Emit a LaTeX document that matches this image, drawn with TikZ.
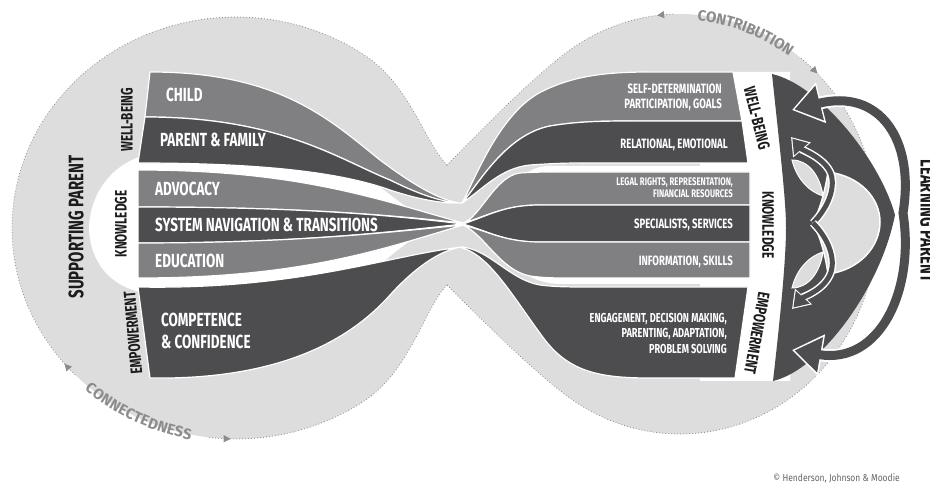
\documentclass[tikz,border=0pt]{standalone}
\usepackage{fontspec}
\setmainfont{Fira Sans}
\newfontfamily\narrowfont{Fira Sans}[FakeStretch=0.71]
\newfontfamily\creditfont{Fira Sans}[FakeStretch=0.85]
\usetikzlibrary{arrows.meta,decorations.markings,decorations.text}

\definecolor{bandgrey}{RGB}{221,221,222}
\definecolor{midgrey}{RGB}{128,128,131}
\definecolor{darkgrey}{RGB}{77,77,80}
\definecolor{dotgrey}{RGB}{140,140,140}
\definecolor{inkgrey}{RGB}{28,28,28}
\definecolor{creditgrey}{RGB}{100,100,100}

\newcommand{\flowfont}{\bfseries\fontsize{15}{15}\selectfont}

\tikzset{
  strand/.style={draw=white, line width=1.2pt, line join=round},
  rowtext/.style={text=white, inner sep=0pt, anchor=west, align=left,
    font=\narrowfont\bfseries\fontsize{19}{22}\selectfont},
  infotext/.style={text=white, inner sep=0pt, anchor=east, align=right,
    font=\narrowfont\bfseries\fontsize{13.5}{15}\selectfont},
  sidetext/.style={text=inkgrey, inner sep=0pt,
    font=\narrowfont\bfseries\fontsize{16.5}{17}\selectfont},
  dotline/.style={dotgrey, line width=1.1pt, line cap=round,
    dash pattern=on 0pt off 3pt, postaction={decorate}},
  flowtip/.tip={Triangle[length=7pt,width=7pt]},
}

\begin{document}
\begin{tikzpicture}[x=1pt,y=-1pt]
  \useasboundingbox (0,0) rectangle (930,486);

  % figure of eight band
  \fill[bandgrey] (447,165) .. controls (469,143) and (527,82) .. (567,52)
    arc[start angle=235, end angle=485, x radius=197, y radius=210]
    .. controls (527,366) and (469,307) .. (447,285)
    .. controls (425,307) and (410,371) .. (364.5,400.8)
    arc[start angle=55, end angle=305, x radius=224, y radius=211]
    .. controls (410,85) and (425,143) .. (447,165) -- cycle;

  % dotted outline with its little arrows
  \draw[dotline, decoration={markings, mark=at position -22pt with {\arrowreversed{flowtip}}}]
    (447,285) .. controls (425,307) and (410,371) .. (364.5,400.8)
    arc[start angle=55, end angle=97, x radius=224, y radius=211];
  \draw[dotline, decoration={markings, mark=at position 15pt with {\arrow{flowtip}}}]
    (74.9,374.6) arc[start angle=136, end angle=305, x radius=224, y radius=211]
    .. controls (410,85) and (425,143) .. (447,165);
  \draw[dotline, decoration={markings, mark=at position -16pt with {\arrowreversed{flowtip}}}]
    (447,165) .. controls (469,143) and (527,82) .. (567,52)
    arc[start angle=235, end angle=268, x radius=197, y radius=210];
  \draw[dotline, decoration={markings, mark=at position 22pt with {\arrow{flowtip}}}]
    (801.3,58.5) arc[start angle=308, end angle=485, x radius=197, y radius=210]
    .. controls (527,366) and (469,307) .. (447,285);

  \path[decorate, decoration={text along path, text color=dotgrey, text align=center,
      raise=-5pt, text={|\flowfont|CONNECTEDNESS}}]
    (80.4,379.8) arc[start angle=134, end angle=99, x radius=224, y radius=211];
  \path[decorate, decoration={text along path, text color=dotgrey, text align=center,
      raise=-6pt, text={|\flowfont|CONTRIBUTION}}]
    (693.7,14.5) arc[start angle=274, end angle=306, x radius=197, y radius=210];

  % white holes of the two lobes
  \fill[white] (145,155) .. controls (110,165) and (90,195) .. (89,228)
    .. controls (90,262) and (110,287) .. (145,293) -- (320,290)
    .. controls (370,285) and (390,250) .. (420,235) -- (420,215)
    .. controls (390,200) and (370,168) .. (320,166) -- cycle;
  \fill[white] (545,166) .. controls (515,170) and (500,205) .. (490,220) -- (490,232)
    .. controls (505,255) and (520,283) .. (560,284) -- (700,284) -- (700,381)
    -- (790,381) -- (790,72) -- (700,72) -- (700,166) -- cycle;

  % left strands
  \filldraw[strand, fill=midgrey] (150,72) .. controls (280,72) and (330,120) .. (380,160)
    .. controls (420,190) and (445,202) .. (462,203)
    .. controls (445,204) and (420,195) .. (390,180)
    .. controls (340,160) and (280,117) .. (145,117) -- cycle;
  \filldraw[strand, fill=darkgrey] (145,117) .. controls (280,117) and (340,160) .. (390,180)
    .. controls (420,195) and (445,203) .. (462,203)
    .. controls (445,204) and (420,200) .. (390,190)
    .. controls (340,172) and (260,163) .. (138,163) -- cycle;
  \filldraw[strand, fill=midgrey] (138,170) .. controls (300,170) and (380,200) .. (463,223)
    .. controls (390,215) and (300,207) .. (138,207) -- cycle;
  \filldraw[strand, fill=darkgrey] (138,207) .. controls (300,207) and (390,215) .. (463,224)
    .. controls (390,232) and (300,243) .. (138,243) -- cycle;
  \filldraw[strand, fill=midgrey] (138,243) .. controls (300,243) and (390,232) .. (463,225)
    .. controls (380,250) and (300,278) .. (138,278) -- cycle;
  \filldraw[strand, fill=darkgrey] (138,287) .. controls (300,290) and (390,255) .. (462,247)
    .. controls (445,249) and (420,262) .. (390,295)
    .. controls (350,340) and (280,380) .. (150,378) -- cycle;

  % right strands
  \filldraw[strand, fill=midgrey] (462,203) .. controls (475,180) and (500,110) .. (545,90)
    .. controls (575,76) and (605,72) .. (650,72) -- (733,72) -- (742,121) -- (640,121)
    .. controls (605,121) and (580,121) .. (550,126)
    .. controls (505,135) and (478,185) .. (462,203) -- cycle;
  \filldraw[strand, fill=darkgrey] (462,203) .. controls (478,185) and (505,135) .. (550,126)
    .. controls (580,121) and (605,121) .. (640,121) -- (742,121) -- (748,163) -- (580,163)
    .. controls (560,163) and (545,164) .. (530,165)
    .. controls (500,168) and (482,190) .. (462,203) -- cycle;
  \filldraw[strand, fill=midgrey] (463,223) .. controls (480,218) and (495,176) .. (520,173)
    .. controls (535,172) and (545,172) .. (560,172) -- (750,172) -- (750,205) -- (540,205)
    .. controls (505,205) and (490,215) .. (463,223) -- cycle;
  \filldraw[strand, fill=darkgrey] (463,224) .. controls (490,215) and (505,205) .. (540,205)
    -- (750,205) -- (750,242) -- (540,242)
    .. controls (505,242) and (490,232) .. (463,224) -- cycle;
  \filldraw[strand, fill=midgrey] (463,225) .. controls (490,232) and (505,242) .. (540,242)
    -- (750,242) -- (750,278) -- (570,278)
    .. controls (555,278) and (545,278) .. (530,276)
    .. controls (500,270) and (485,235) .. (463,225) -- cycle;
  \filldraw[strand, fill=darkgrey] (462,247) .. controls (490,250) and (510,280) .. (540,285)
    .. controls (555,287) and (570,287) .. (590,287) -- (748,287) -- (735,378) -- (650,378)
    .. controls (600,378) and (570,372) .. (545,340)
    .. controls (515,300) and (490,255) .. (462,248) -- cycle;

  % strand labels
  \node[rowtext] (child) at (166,95) {CHILD};
  \node[rowtext] (family) at (160,140) {PARENT \& FAMILY};
  \node[rowtext] (advocacy) at (155,189) {ADVOCACY};
  \node[rowtext] (navigation) at (155,225) {SYSTEM NAVIGATION \& TRANSITIONS};
  \node[rowtext] (education) at (155,261) {EDUCATION};
  \node[rowtext] (competence) at (161,331) {COMPETENCE\\\& CONFIDENCE};

  \node[infotext] (selfdet) at (722,97) {SELF-DETERMINATION\\PARTICIPATION, GOALS};
  \node[infotext] (relational) at (728,145) {RELATIONAL, EMOTIONAL};
  \node[infotext, font=\narrowfont\bfseries\fontsize{11}{12}\selectfont]
    (legal) at (733,188) {LEGAL RIGHTS, REPRESENTATION,\\FINANCIAL RESOURCES};
  \node[infotext] (specialists) at (733,225) {SPECIALISTS, SERVICES};
  \node[infotext] (information) at (733,262) {INFORMATION, SKILLS};
  \node[infotext, font=\narrowfont\bfseries\fontsize{13}{15.5}\selectfont]
    (engagement) at (727,333) {ENGAGEMENT, DECISION MAKING,\\PARENTING, ADAPTATION,\\PROBLEM SOLVING};

  % learning parent bow and arrows
  \fill[darkgrey] (772,74) .. controls (780,150) and (786,200) .. (786,228)
    .. controls (786,260) and (780,320) .. (773,381)
    .. controls (820,370) and (880,290) .. (895,215)
    .. controls (880,160) and (820,85) .. (772,74) -- cycle;
  \filldraw[fill=bandgrey, draw=white, line width=1.5pt] (813,223)
    .. controls (822,205) and (826,185) .. (828,172)
    .. controls (860,176) and (880,198) .. (880,222)
    .. controls (880,246) and (860,270) .. (828,274)
    .. controls (826,260) and (822,240) .. (813,223) -- cycle;
  \filldraw[fill=bandgrey, draw=white, line width=1pt] (792,160)
    .. controls (808,160) and (820,175) .. (823,196)
    .. controls (810,192) and (797,180) .. (792,160) -- cycle;
  \filldraw[fill=bandgrey, draw=white, line width=1pt] (792,288)
    .. controls (808,288) and (820,273) .. (823,252)
    .. controls (810,256) and (797,268) .. (792,288) -- cycle;

  \draw[white, line width=8pt, -{Triangle[length=17pt,width=22pt]}]
    (813,223) .. controls (826,210) and (836,190) .. (831,174)
    .. controls (825,158) and (802,150) .. (791,137);
  \draw[darkgrey, line width=5pt, shorten >=2pt, -{Triangle[length=14pt,width=18pt]}]
    (813,223) .. controls (826,210) and (836,190) .. (831,174)
    .. controls (825,158) and (802,150) .. (791,137);
  \draw[white, line width=8pt, -{Triangle[length=17pt,width=22pt]}]
    (813,223) .. controls (826,236) and (836,256) .. (831,272)
    .. controls (825,290) and (803,297) .. (792,309);
  \draw[darkgrey, line width=5pt, shorten >=2pt, -{Triangle[length=14pt,width=18pt]}]
    (813,223) .. controls (826,236) and (836,256) .. (831,272)
    .. controls (825,290) and (803,297) .. (792,309);

  \draw[white, line width=13pt, {Triangle[length=30pt,width=40pt]}-{Triangle[length=30pt,width=40pt]}]
    (792,110) .. controls (880,88) and (915,140) .. (903,213)
    .. controls (915,290) and (880,365) .. (792,350);
  \draw[darkgrey, line width=9pt, shorten <=2.5pt, shorten >=2.5pt,
      {Triangle[length=26pt,width=34pt]}-{Triangle[length=26pt,width=34pt]}]
    (792,110) .. controls (880,88) and (915,140) .. (903,213)
    .. controls (915,290) and (880,365) .. (792,350);

  % side labels
  \node[sidetext, font=\narrowfont\bfseries\fontsize{21}{21}\selectfont, rotate=90]
    (supporting) at (76,227) {SUPPORTING PARENT};
  \node[sidetext, rotate=90] (wellL) at (127,120) {WELL-BEING};
  \node[sidetext, rotate=90] (knowL) at (121,224) {KNOWLEDGE};
  \node[sidetext, rotate=95] (empL) at (133,333) {EMPOWERMENT};
  \node[sidetext, rotate=-76] (wellR) at (757,118) {WELL-BEING};
  \node[sidetext, rotate=-90] (knowR) at (768,225) {KNOWLEDGE};
  \node[sidetext, rotate=-100] (empR) at (757,333) {EMPOWERMENT};

  \begin{scope}
    \clip (0,0) rectangle (930,486);
    \node[sidetext, font=\narrowfont\bfseries\fontsize{21}{21}\selectfont, rotate=-90]
      (learning) at (928,221) {LEARNING PARENT};
  \end{scope}

  \node[anchor=east, inner sep=0pt, text=creditgrey, font=\creditfont\fontsize{10}{10}\selectfont]
    (credit) at (900,478) {\textcopyright{} Henderson, Johnson \& Moodie};
\end{tikzpicture}
\end{document}
